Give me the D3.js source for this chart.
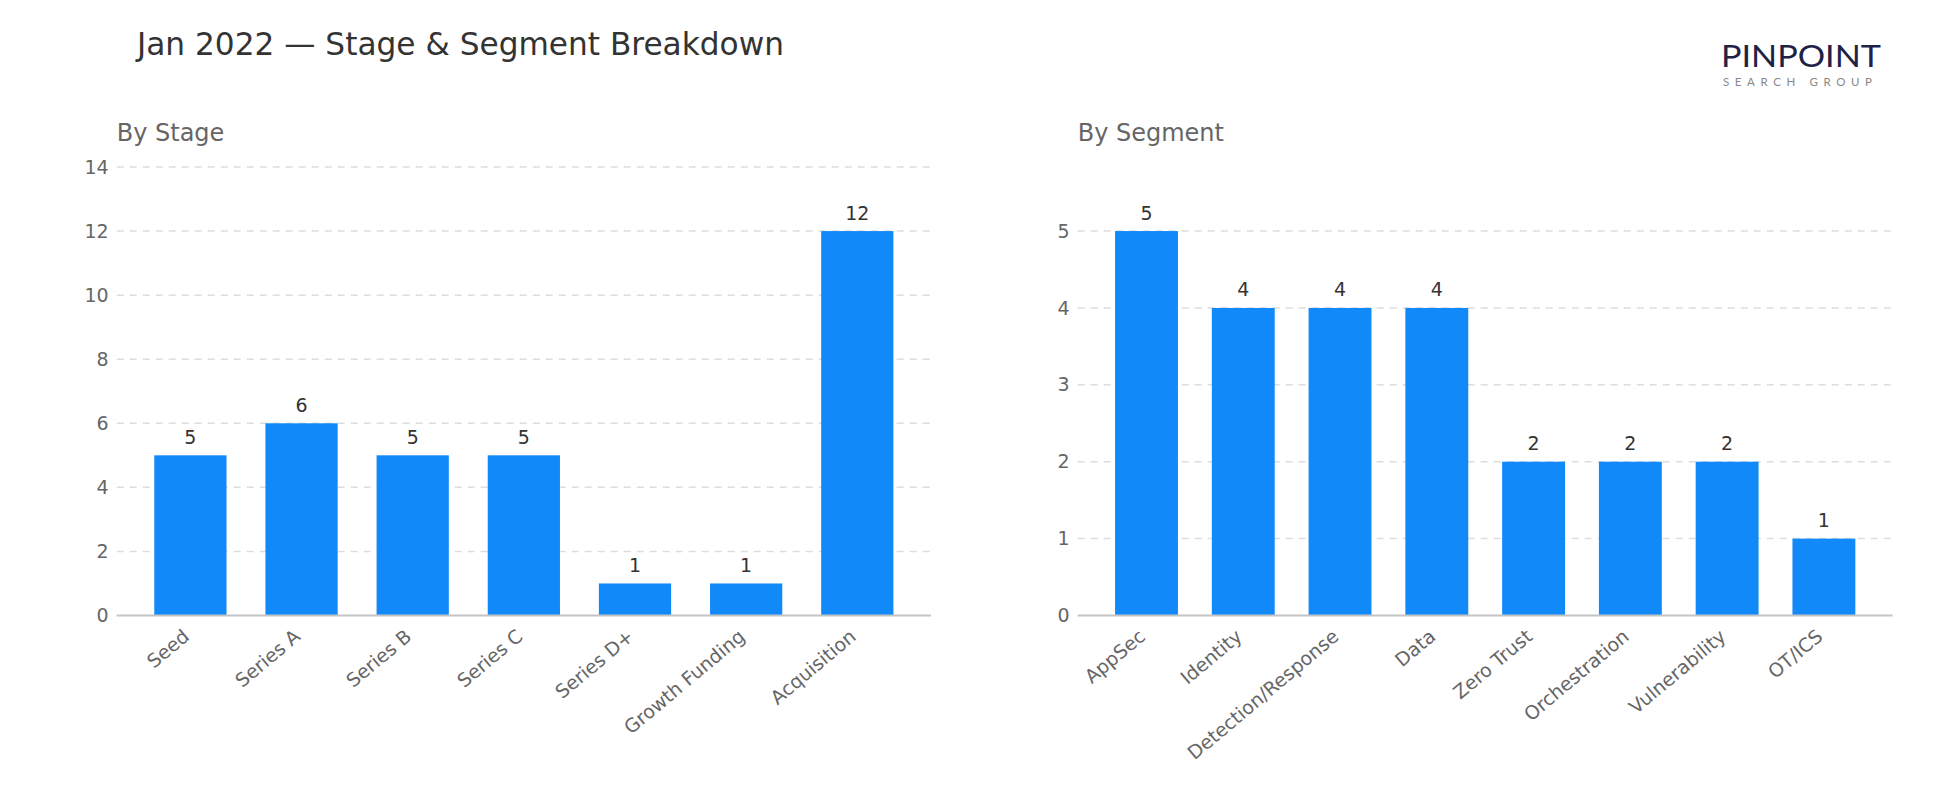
<!DOCTYPE html>
<html>
<head>
<meta charset="utf-8">
<script src="https://cdn.jsdelivr.net/npm/d3@7"></script>
<style>
  html, body { margin: 0; padding: 0; background: #ffffff; }
  svg { display: block; font-family: "DejaVu Sans", sans-serif; }
</style>
</head>
<body>
<svg id="chart" width="1950" height="810"></svg>
<script>
// ---- data ----
const stageCategories = ["Seed", "Series A", "Series B", "Series C", "Series D+", "Growth Funding", "Acquisition"];
const stageValues = [5, 6, 5, 5, 1, 1, 12];
const stageTicks = [0, 2, 4, 6, 8, 10, 12, 14];

const segmentCategories = ["AppSec", "Identity", "Detection/Response", "Data", "Zero Trust", "Orchestration", "Vulnerability", "OT/ICS"];
const segmentValues = [5, 4, 4, 4, 2, 2, 2, 1];
const segmentTicks = [0, 1, 2, 3, 4, 5];

const titleText = "Jan 2022 \u2014 Stage & Segment Breakdown";
const stageTitle = "By Stage";
const segmentTitle = "By Segment";

// ---- layout ----
const svg = d3.select("#chart");
const BAR = "#1289f8";
const plotTop = 167, plotBottom = 615.5;

svg.append("text")
  .attr("x", 137).attr("y", 55)
  .attr("font-size", 31.2).attr("fill", "#333333")
  .text(titleText);

// logo
const logo = svg.append("g");
logo.append("text")
  .attr("x", 1721).attr("y", 67)
  .attr("font-family", "Lato, 'Noto Sans', sans-serif")
  .attr("font-weight", 400)
  .attr("font-size", 30).attr("fill", "#1f2246")
  .attr("textLength", 160).attr("lengthAdjust", "spacingAndGlyphs")
  .text("PINPOINT");
logo.append("text")
  .attr("x", 1723).attr("y", 86)
  .attr("font-family", "Lato, 'Noto Sans', sans-serif")
  .attr("font-size", 11.5).attr("fill", "#888888")
  .attr("textLength", 149).attr("lengthAdjust", "spacing")
  .text("SEARCH GROUP");

function drawPanel(opts) {
  const { x0, x1, cats, vals, ticks, yMax, title, padOuter } = opts;
  const g = svg.append("g");
  const x = d3.scaleBand().domain(cats).range([x0, x1]).paddingInner(0.35).paddingOuter(padOuter);
  const y = d3.scaleLinear().domain([0, yMax]).range([plotBottom, plotTop]);

  g.append("text")
    .attr("x", x0).attr("y", 141)
    .attr("font-size", 24).attr("fill", "#666666")
    .text(title);

  // grid
  g.selectAll("line.grid").data(ticks.filter(t => t > 0)).join("line")
    .attr("class", "grid")
    .attr("x1", x0).attr("x2", x1)
    .attr("y1", d => y(d)).attr("y2", d => y(d))
    .attr("stroke", "#dddddd").attr("stroke-width", 1.5)
    .attr("stroke-dasharray", "7,6");

  // y axis labels
  const yAxis = d3.axisLeft(y).tickValues(ticks).tickSize(0).tickPadding(8).tickFormat(d3.format("d"));
  const ya = g.append("g").attr("transform", `translate(${x0},0)`).call(yAxis);
  ya.select(".domain").remove();
  ya.selectAll("text").attr("font-size", 19).attr("fill", "#666666")
    .attr("font-family", "DejaVu Sans, sans-serif");

  // bars
  g.selectAll("rect.bar").data(cats).join("rect")
    .attr("class", "bar")
    .attr("x", d => x(d)).attr("width", x.bandwidth())
    .attr("y", (d, i) => y(vals[i]))
    .attr("height", (d, i) => plotBottom - y(vals[i]))
    .attr("fill", BAR);

  // value labels
  g.selectAll("text.val").data(cats).join("text")
    .attr("class", "val")
    .attr("x", d => x(d) + x.bandwidth() / 2)
    .attr("y", (d, i) => y(vals[i]) - 11.5)
    .attr("text-anchor", "middle")
    .attr("font-size", 19).attr("fill", "#333333")
    .text((d, i) => vals[i]);

  // x axis
  const xAxis = d3.axisBottom(x).tickSize(0).tickPadding(0);
  const xa = g.append("g").attr("transform", `translate(0,${plotBottom})`).call(xAxis);
  xa.select(".domain").remove();
  xa.selectAll(".tick text")
    .attr("font-size", 19).attr("fill", "#666666")
    .attr("font-family", "DejaVu Sans, sans-serif")
    .attr("text-anchor", "end")
    .attr("dy", 0).attr("y", 0)
    .attr("transform", "translate(0,23) rotate(-40)");

  g.append("line")
    .attr("x1", x0).attr("x2", x1)
    .attr("y1", plotBottom).attr("y2", plotBottom)
    .attr("stroke", "#c4c4c4").attr("stroke-width", 2);
}

drawPanel({ x0: 116.7, x1: 931, cats: stageCategories, vals: stageValues, ticks: stageTicks, yMax: 14, title: stageTitle, padOuter: 0.338 });
drawPanel({ x0: 1077.7, x1: 1892.7, cats: segmentCategories, vals: segmentValues, ticks: segmentTicks, yMax: 5.833, title: segmentTitle, padOuter: 0.386 });
</script>
</body>
</html>
